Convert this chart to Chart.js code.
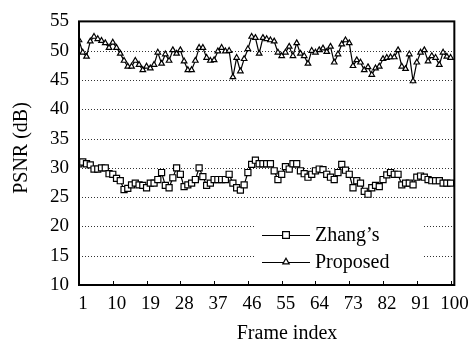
<!DOCTYPE html>
<html><head><meta charset="utf-8">
<script src="https://cdn.jsdelivr.net/npm/chart.js@4/dist/chart.umd.min.js"></script>
<style>html,body{margin:0;padding:0;background:#fff}#w{width:473px;height:347px}</style>
</head><body><div id="w"><canvas id="c" width="473" height="347"></canvas></div>
<script>
const frames = Array.from({length:100},(_,i)=>i+1);
const xTickValues = [1,10,19,28,37,46,55,64,73,82,91,100];
const yTickValues = [10,15,20,25,30,35,40,45,50,55];
const gridValues = [15,20,25,30,35,40,45,50];
const zhang = [30.7,31.0,30.7,30.5,29.8,29.8,30.0,30.0,29.0,28.9,
28.2,27.8,26.3,26.5,27.1,27.4,27.1,27.0,26.6,27.4,
27.4,28.0,29.2,27.0,26.6,28.3,30.0,28.9,26.8,27.1,
27.4,28.0,30.0,28.5,27.0,27.4,28.0,28.0,28.0,28.0,
28.9,27.4,26.6,26.2,27.1,29.2,30.6,31.3,30.7,30.7,
30.7,30.7,29.5,28.0,28.9,30.2,29.8,30.7,30.7,29.5,
29.0,28.4,28.9,29.5,29.8,29.7,28.9,28.4,28.0,29.2,
30.6,29.6,28.9,26.6,27.8,27.4,26.0,25.5,26.6,27.0,
26.8,28.0,28.8,29.2,28.9,28.9,27.1,27.4,27.4,27.1,
28.4,28.6,28.4,28.0,27.8,27.8,27.8,27.4,27.4,27.4];
const proposed = [51.8,49.7,49.0,51.6,52.4,52.0,51.7,51.3,50.5,51.4,
50.5,49.5,48.3,47.3,47.3,48.3,47.6,46.7,47.3,47.0,
47.6,49.7,47.8,49.4,48.3,50.1,49.5,50.1,48.2,46.7,
46.7,48.3,50.5,50.5,48.8,48.3,48.4,49.9,50.5,49.9,
50.0,45.5,48.8,46.5,48.6,50.3,52.4,52.2,49.5,52.2,
52.0,51.8,51.6,49.7,49.1,49.7,50.7,49.1,51.3,49.5,
49.1,47.8,50.0,49.7,50.1,50.4,49.8,50.7,48.0,49.4,
51.1,51.8,51.3,47.4,48.4,48.0,46.7,47.2,45.9,47.0,
47.3,48.6,48.8,48.9,48.9,50.1,47.3,46.9,49.4,44.8,
48.0,49.7,50.1,48.2,49.1,48.8,47.6,49.7,49.0,48.8];
const seriesNames = ["Zhang\u2019s","Proposed"];

const FONT = "'Liberation Serif','Times New Roman',serif";

const decor = {
  id:'decor',
  beforeDatasetsDraw(chart){
    const ctx = chart.ctx, a = chart.chartArea, ys = chart.scales.y;
    ctx.save();
    ctx.strokeStyle='#333'; ctx.lineWidth=1; ctx.setLineDash([1,2]);
    gridValues.forEach(v=>{
      const py = Math.round(ys.getPixelForValue(v))+0.5;
      ctx.beginPath(); ctx.moveTo(a.left,py); ctx.lineTo(a.right,py); ctx.stroke();
    });
    ctx.restore();
  },
  afterDatasetsDraw(chart){
    const ctx = chart.ctx, a = chart.chartArea, xs = chart.scales.x;
    ctx.save();
    ctx.strokeStyle='#000'; ctx.lineWidth=1;
    xTickValues.forEach(v=>{
      const px = Math.round(xs.getPixelForValue(v))+0.5;
      ctx.beginPath(); ctx.moveTo(px,a.bottom); ctx.lineTo(px,a.bottom-4); ctx.stroke();
    });
    ctx.lineWidth=2;
    ctx.strokeRect(a.left,a.top,a.right-a.left,a.bottom-a.top);
    // legend
    ctx.fillStyle='#fff';
    ctx.fillRect(256,216,168,60);
    const rows=[{y:235,ds:0},{y:262,ds:1}];
    rows.forEach(r=>{
      const ds = chart.data.datasets[r.ds];
      ctx.strokeStyle='#000'; ctx.lineWidth=1.2;
      ctx.beginPath(); ctx.moveTo(262,r.y+0.5); ctx.lineTo(310,r.y+0.5); ctx.stroke();
      ctx.fillStyle='#fff';
      Chart.helpers.drawPoint(ctx,{pointStyle:ds.pointStyle,radius:ds.pointRadius+0.5,borderWidth:1.2,rotation:0},286,r.y);
      ctx.fillStyle='#000';
      ctx.font='20px '+FONT; ctx.textBaseline='middle'; ctx.textAlign='left';
      ctx.fillText(seriesNames[r.ds],315,r.y+1);
    });
    ctx.fillStyle='#000';
    ctx.font='20px '+FONT; ctx.textAlign='center'; ctx.textBaseline='middle';
    ctx.fillText('Frame index',287,334);
    ctx.translate(22,148); ctx.rotate(-Math.PI/2);
    ctx.fillText('PSNR (dB)',0,0);
    ctx.restore();
  }
};

new Chart(document.getElementById('c'),{
  type:'line',
  data:{
    labels:frames,
    datasets:[
      {label:seriesNames[0],data:zhang,borderColor:'#000',borderWidth:1.2,backgroundColor:'#fff',
       pointStyle:'rect',pointRadius:4.3,pointBorderWidth:1.2,pointBackgroundColor:'#fff',pointBorderColor:'#000',tension:0},
      {label:seriesNames[1],data:proposed,borderColor:'#000',borderWidth:1.2,backgroundColor:'#fff',
       pointStyle:'triangle',pointRadius:3.2,pointBorderWidth:1.2,pointBackgroundColor:'#fff',pointBorderColor:'#000',tension:0}
    ]
  },
  options:{
    responsive:false,animation:false,devicePixelRatio:1,
    layout:{padding:{top:19,right:16,left:0,bottom:0}},
    plugins:{legend:{display:false},tooltip:{enabled:false}},
    scales:{
      x:{type:'linear',min:1,max:101,
        afterBuildTicks(s){s.ticks=xTickValues.map(v=>({value:v}));},
        afterFit(s){s.height=62;},
        grid:{display:false,drawTicks:false},border:{display:false},
        ticks:{autoSkip:false,maxRotation:0,padding:8,labelOffset:4,color:'#000',font:{family:FONT,size:19}}
      },
      y:{min:10,max:55,
        afterBuildTicks(s){s.ticks=yTickValues.map(v=>({value:v}));},
        afterFit(s){s.width=79;},
        grid:{display:false,drawTicks:false},
        border:{display:false},
        ticks:{padding:10,color:'#000',font:{family:FONT,size:19}}
      }
    }
  },
  plugins:[decor]
});
</script></body></html>
